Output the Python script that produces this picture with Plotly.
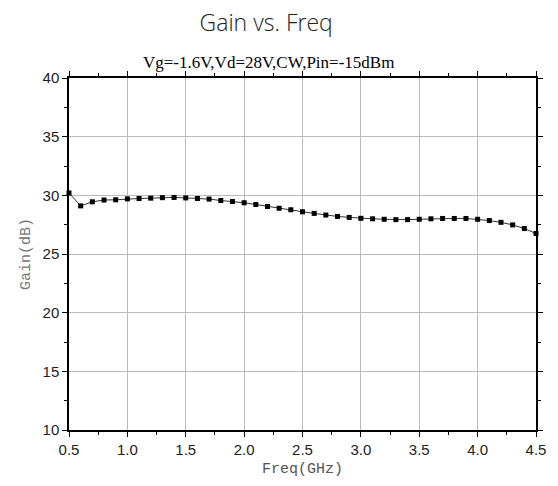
import plotly.graph_objects as go

freq = [0.5, 0.6, 0.7, 0.8, 0.9, 1.0, 1.1, 1.2, 1.3, 1.4, 1.5, 1.6, 1.7, 1.8, 1.9, 2.0,
        2.1, 2.2, 2.3, 2.4, 2.5, 2.6, 2.7, 2.8, 2.9, 3.0, 3.1, 3.2, 3.3, 3.4, 3.5, 3.6,
        3.7, 3.8, 3.9, 4.0, 4.1, 4.2, 4.3, 4.4, 4.5]
gain = [30.2, 29.1, 29.45, 29.6, 29.62, 29.7, 29.73, 29.76, 29.8, 29.82, 29.78, 29.73,
        29.68, 29.56, 29.47, 29.37, 29.22, 29.05, 28.9, 28.77, 28.6, 28.46, 28.32, 28.2,
        28.12, 28.04, 28.0, 27.96, 27.93, 27.93, 27.96, 28.0, 28.03, 28.03, 28.03, 27.96,
        27.85, 27.7, 27.48, 27.17, 26.75]

title_text = "Gain vs. Freq"
subtitle_text = "Vg=-1.6V,Vd=28V,CW,Pin=-15dBm"
x_title = "Freq(GHz)"
y_title = "Gain(dB)"

fig = go.Figure()
fig.add_trace(go.Scatter(
    x=freq, y=gain, mode="lines+markers",
    line=dict(color="#333333", width=1),
    marker=dict(symbol="square", size=5, color="black"),
    cliponaxis=False, showlegend=False,
))

axis_common = dict(
    showline=True, linecolor="black", linewidth=1.5, mirror="ticks",
    ticks="outside", ticklen=5, tickcolor="black", tickwidth=1,
    showgrid=True, gridcolor="#bbbbbb", gridwidth=1, zeroline=False,
    tickfont=dict(family="Liberation Sans, Arial", size=15, color="#222222"),
)

fig.update_xaxes(
    range=[0.5, 4.5], dtick=0.5, tick0=0.5, tickformat=".1f",
    minor=dict(ticks="outside", ticklen=3, dtick=0.25, tick0=0.5, tickcolor="black", showgrid=False),
    title=dict(text=x_title, font=dict(family="Liberation Mono, monospace", size=15, color="#555555"), standoff=6),
    **axis_common,
)
fig.update_yaxes(
    range=[10, 40], dtick=5, tick0=10,
    minor=dict(ticks="outside", ticklen=3, dtick=2.5, tick0=10, tickcolor="black", showgrid=False),
    title=dict(text=y_title, font=dict(family="Liberation Mono, monospace", size=15, color="#777777"), standoff=8),
    **axis_common,
)

fig.update_layout(
    width=558, height=486,
    margin=dict(l=69, r=17, t=78, b=54),
    paper_bgcolor="white", plot_bgcolor="white",
    title=dict(text=title_text, x=0.477, xanchor="center", y=0.953, yanchor="middle",
               font=dict(family="Open Sans, Noto Sans", size=23, color="#222222", weight=300)),
    annotations=[dict(text=subtitle_text, xref="paper", yref="paper", x=0.428, y=1.0,
                      xanchor="center", yanchor="bottom", yshift=4, showarrow=False,
                      font=dict(family="Liberation Serif, Times New Roman", size=17, color="black"))],
)

fig.write_html("out.html")
